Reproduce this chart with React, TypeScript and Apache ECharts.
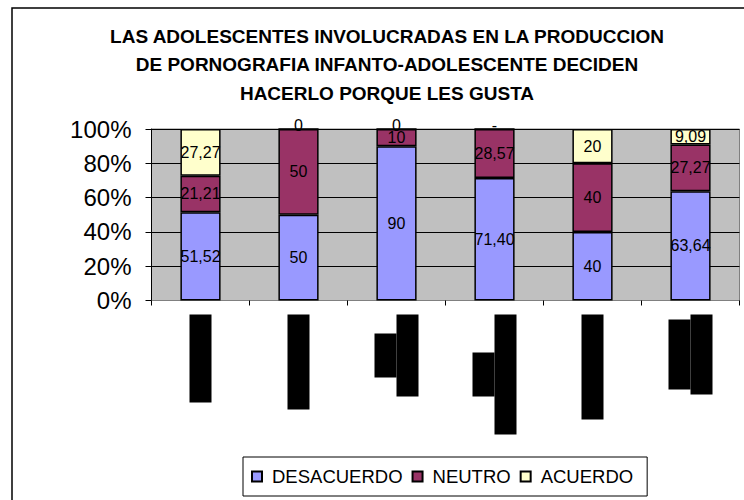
import React, { useEffect, useRef } from "react";
import * as echarts from "echarts";

const categories = ["Ítem 1", "Ítem 2", "Ítem 3", "Ítem 4", "Ítem 5", "Ítem 6"];
const desacuerdo = [51.52, 50, 90, 71.4, 40, 63.64];
const neutro = [21.21, 50, 10, 28.57, 40, 27.27];
const acuerdo: (number | null)[] = [27.27, 0, 0, null, 20, 9.09];
const yTicks = [0, 20, 40, 60, 80, 100];
// redacted (blacked-out) category label lines, lengths in px
const redactedLines = [[88], [95], [44, 82], [44, 120], [105], [70, 80]];

const TITLE =
  "LAS ADOLESCENTES INVOLUCRADAS EN LA PRODUCCION\nDE PORNOGRAFIA INFANTO-ADOLESCENTE DECIDEN\nHACERLO PORQUE LES GUSTA";

const fmt = (v: number) =>
  Number.isInteger(v) ? String(v) : v.toFixed(2).replace(".", ",");

export default function App() {
  const ref = useRef<HTMLDivElement>(null);
  useEffect(() => {
    if (!ref.current) return;
    const chart = echarts.init(ref.current, null, { renderer: "svg" });
    const FONT = "Liberation Sans, Arial, sans-serif";

    const rich: Record<string, any> = {};
    redactedLines.flat().forEach((w) => {
      rich["w" + w] = {
        width: w,
        height: 22,
        lineHeight: 22,
        backgroundColor: "#000",
        color: "#000",
        align: "center",
        fontSize: 1,
      };
    });

    const labelBase = {
      show: true,
      position: "inside",
      color: "#000",
      fontSize: 16,
      fontFamily: FONT,
    };
    const border = { borderColor: "#000", borderWidth: 1.5 };

    const mk = (name: string, vals: (number | null)[], color: string) => ({
      name,
      type: "bar",
      stack: "total",
      barWidth: "41%",
      itemStyle: { color, ...border },
      label: { ...labelBase, formatter: (p: any) => fmt(p.value) },
      data: vals.map((v) =>
        v === null
          ? { value: 0, label: { formatter: "-", offset: [0, -4] } }
          : v === 0
          ? { value: 0, label: { offset: [0, -4] } }
          : v
      ),
    });

    chart.setOption({
      animation: false,
      graphic: [
        {
          type: "rect",
          shape: { x: 12, y: 8, width: 800, height: 600 },
          style: { fill: "none", stroke: "#000", lineWidth: 1.5 },
          z: -10,
        },
      ],
      title: {
        text: TITLE,
        left: 382,
        top: 17,
        textAlign: "center",
        textStyle: {
          fontFamily: FONT,
          fontSize: 19,
          fontWeight: "bold",
          color: "#000",
          lineHeight: 28.5,
        },
      },
      legend: {
        left: 243,
        top: 457,
        padding: [10, 14, 10, 8],
        borderColor: "#000",
        borderWidth: 1,
        itemWidth: 10,
        itemHeight: 10,
        itemGap: 9,
        icon: "rect",
        textStyle: { fontFamily: FONT, fontSize: 18.5, color: "#000", padding: [0, 0, 0, 5] },
        data: ["DESACUERDO", "NEUTRO", "ACUERDO"],
      },
      grid: {
        left: 151.5,
        top: 129,
        width: 588,
        height: 171.5,
        show: true,
        backgroundColor: "#C0C0C0",
        borderColor: "#808080",
        borderWidth: 1,
      },
      xAxis: {
        type: "category",
        data: categories,
        axisLine: { show: true, lineStyle: { color: "#808080", width: 1 } },
        axisTick: { show: true, length: 5, lineStyle: { color: "#000" } },
        axisLabel: {
          interval: 0,
          rotate: 90,
          margin: 14,
          formatter: (_v: string, i: number) =>
            redactedLines[i].map((w) => `{w${w}| }`).join("\n"),
          rich,
        },
      },
      yAxis: {
        type: "value",
        min: yTicks[0],
        max: yTicks[yTicks.length - 1],
        interval: 20,
        axisLine: { show: true, lineStyle: { color: "#000" } },
        axisTick: { show: true, length: 6, lineStyle: { color: "#000" } },
        splitLine: { show: true, lineStyle: { color: "#000", width: 1 } },
        axisLabel: {
          formatter: "{value}%",
          fontSize: 24,
          fontFamily: FONT,
          color: "#000",
          margin: 20,
        },
      },
      series: [
        mk("DESACUERDO", desacuerdo, "#9999FF"),
        mk("NEUTRO", neutro, "#993366"),
        mk("ACUERDO", acuerdo, "#FFFFCC"),
      ],
    });
    return () => chart.dispose();
  }, []);
  return (
    <div
      ref={ref}
      style={{ position: "fixed", left: 0, top: 0, width: 744, height: 500, background: "#fff" }}
    />
  );
}
